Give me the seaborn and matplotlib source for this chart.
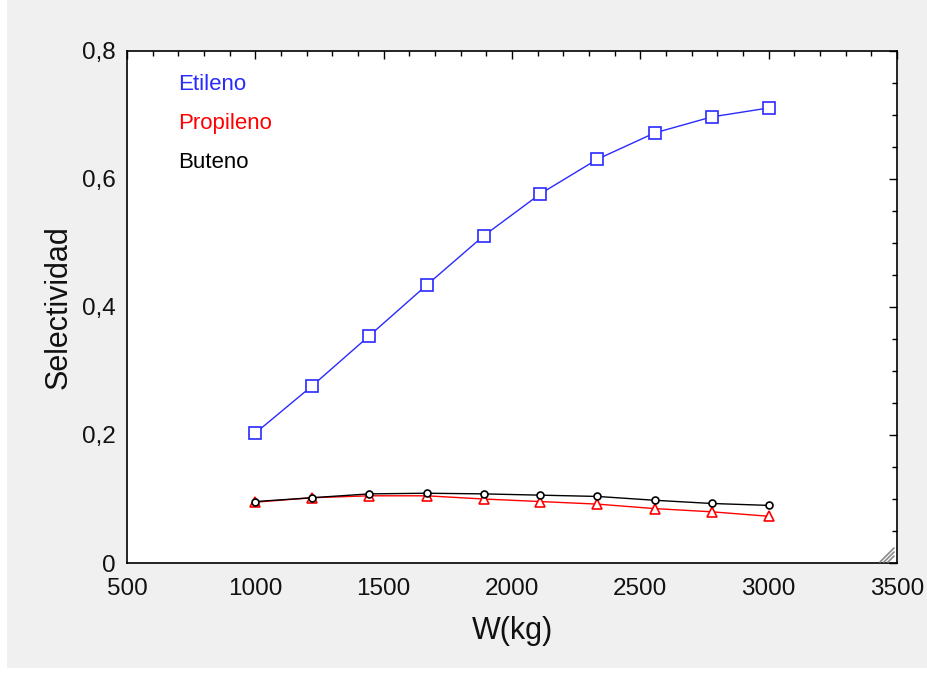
import matplotlib
matplotlib.use("Agg")
import matplotlib.pyplot as plt
import seaborn as sns
import pandas as pd
from matplotlib.ticker import MultipleLocator, FixedLocator, FixedFormatter
from matplotlib.patches import Rectangle
from matplotlib.lines import Line2D

sns.set_style("white")
plt.rcParams['font.family'] = ['Liberation Sans', 'DejaVu Sans']

W = [1000, 1222, 1444, 1667, 1889, 2111, 2333, 2556, 2778, 3000]
etileno = [0.203, 0.277, 0.355, 0.434, 0.511, 0.577, 0.631, 0.672, 0.697, 0.711]
propileno = [0.095, 0.102, 0.105, 0.105, 0.100, 0.096, 0.092, 0.085, 0.080, 0.073]
buteno = [0.096, 0.102, 0.108, 0.109, 0.108, 0.106, 0.104, 0.098, 0.093, 0.090]
series_names = ["Etileno", "Propileno", "Buteno"]
yticks = [0, 0.2, 0.4, 0.6, 0.8]
ytick_labels = ["0", "0,2", "0,4", "0,6", "0,8"]
xticks = [500, 1000, 1500, 2000, 2500, 3000, 3500]

colors = ["#2a2aff", "#ff0000", "#000000"]
markers = ["s", "^", "o"]
msizes = [8.5, 7, 5]

fig = plt.figure(figsize=(9.27, 6.73), dpi=100)
fig.patch.set_facecolor("white")
fig.patches.append(Rectangle((7/927, 5/673), 1, 1, transform=fig.transFigure,
                             facecolor="#f0f0f0", edgecolor="none", zorder=-10))
ax = fig.add_axes([127/927, 1 - 563/673, 770/927, 512/673])
ax.set_facecolor("white")

for name, vals, c, m, ms in zip(series_names, [etileno, propileno, buteno], colors, markers, msizes):
    df = pd.DataFrame({"W": W, "S": vals})
    sns.lineplot(data=df, x="W", y="S", ax=ax, color=c, linewidth=1.0,
                 marker=m, markersize=ms, markerfacecolor="white",
                 markeredgecolor=c, markeredgewidth=1.2, zorder=3)

ax.set_xlim(500, 3500)
ax.set_ylim(0, 0.8)
ax.xaxis.set_major_locator(FixedLocator(xticks))
ax.xaxis.set_minor_locator(MultipleLocator(100))
ax.yaxis.set_major_locator(FixedLocator(yticks))
ax.yaxis.set_major_formatter(FixedFormatter(ytick_labels))
ax.yaxis.set_minor_locator(MultipleLocator(0.05))
ax.tick_params(which="both", direction="in", top=True, right=True, color="black",
               width=1.0, labelsize=17.5, labelcolor="#111111")
ax.tick_params(axis="x", which="major", pad=10.5)
ax.tick_params(axis="y", which="major", pad=8)
ax.tick_params(which="major", length=6)
ax.tick_params(which="minor", length=3.5)
for s in ax.spines.values():
    s.set_visible(True)
    s.set_color("black")
    s.set_linewidth(1.2)

ax.set_xlabel("W(kg)", fontsize=22, labelpad=12, color="#111111")
ax.set_ylabel("Selectividad", fontsize=22, labelpad=6, color="#111111")

ypos = [84, 123, 162]
for name, c, yp in zip(series_names, colors, ypos):
    ax.text(178/927, 1 - yp/673, name, color=c, fontsize=16,
            transform=fig.transFigure, va="center", ha="left")

# resize grip decoration
for off in [0, 4, 8]:
    fig.add_artist(Line2D([(880 + off)/927, (894)/927],
                          [1 - 562/673, 1 - (548 + off)/673],
                          transform=fig.transFigure, color="#8a8a8a", linewidth=1.2))

fig.savefig("out.png", dpi=100, facecolor=fig.get_facecolor())
